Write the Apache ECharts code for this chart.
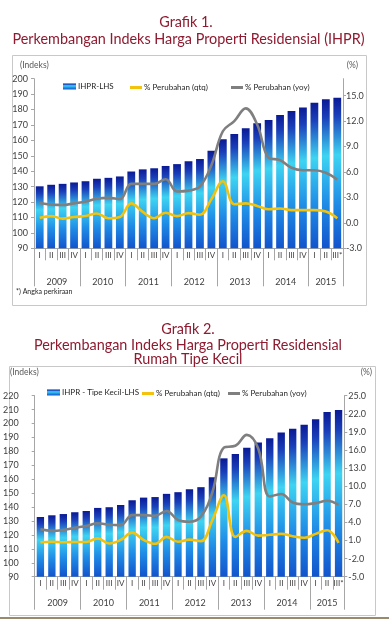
<!DOCTYPE html>
<html><head><meta charset="utf-8">
<script src="https://cdn.jsdelivr.net/npm/echarts@6/dist/echarts.min.js"></script>
<style>html,body{margin:0;padding:0;background:#fff}#c{width:389px;height:619px}</style>
</head><body><div id="c"></div>
<script>
// ---------- data ----------
const quarters = ['I','II','III','IV','I','II','III','IV','I','II','III','IV','I','II','III','IV','I','II','III','IV','I','II','III','IV','I','II','III*'];
const years = ['2009','2010','2011','2012','2013','2014','2015'];
const quartersPerYear = [4,4,4,4,4,4,3];

// Grafik 1 - IHPR
const ihpr = [130.2,131.2,131.8,132.7,133.5,135.1,135.7,136.6,139.8,141.2,141.9,143.4,144.6,146.5,147.9,153.3,160.7,164.1,167.8,171.1,173.2,176.4,179.0,181.4,184.4,186.6,187.7];
const qtq1 = [0.6,0.8,0.5,0.7,0.8,1.1,0.55,0.7,2.3,1.3,0.55,1.2,0.8,1.15,0.95,2.8,4.9,2.2,2.3,2.0,1.6,1.7,1.5,1.5,1.5,1.35,0.55];
const yoy1 = [2.35,2.15,2.1,2.3,2.5,2.85,2.95,2.8,4.6,4.6,4.6,5.15,3.7,3.8,4.3,6.8,10.8,12.0,13.5,11.6,7.7,7.4,6.5,6.2,6.2,5.9,5.1];

// Grafik 2 - Rumah Tipe Kecil
const ihprKecil = [132.9,134.1,135.0,136.3,137.2,139.4,139.9,141.5,144.9,146.8,147.2,149.5,150.7,152.8,154.3,161.4,175.0,178.1,182.7,186.3,189.4,193.5,196.3,199.2,203.1,208.3,209.8];
const qtq2 = [0.7,0.8,0.7,0.75,0.75,1.35,0.5,1.1,2.3,1.1,0.45,1.6,0.8,1.15,0.9,4.4,8.5,1.6,2.6,1.8,1.95,2.1,1.7,1.45,2.1,2.7,0.6];
const yoy2 = [2.85,2.6,2.75,3.1,3.4,3.85,3.6,3.55,5.2,5.2,5.1,5.9,4.4,4.1,5.0,9.0,16.4,16.7,18.5,16.2,8.3,8.7,7.3,7.0,7.2,7.6,6.9];

// axis tick settings [min, max, interval]
const leftAxis1 = [90, 200, 10];
const rightAxis1 = [-3, 17, 3];
const leftAxis2 = [90, 220, 10];
const rightAxis2 = [-5, 25, 3];

// ---------- helpers ----------
const yearCenters = [];
const yearStarts = [];
(function(){ let acc = 0; quartersPerYear.forEach(n => { yearStarts.push(acc); yearCenters.push(acc + n/2); acc += n; }); })();
function yearLabel(v){ const k = yearCenters.findIndex(c => Math.abs(c - v) < 1e-6); return k >= 0 ? years[k] : ''; }

const FONT = 'Lato, "Liberation Sans", sans-serif';
const AX = '#a6a6a6';
const TXT = '#404040';
const barGrad = {type:'linear',x:0,y:0,x2:0,y2:1,colorStops:[
  {offset:0,color:'#0a1a94'},{offset:0.12,color:'#1a40ba'},{offset:0.38,color:'#3ed4f2'},{offset:0.7,color:'#1f8ce6'},{offset:1,color:'#1254cc'}]};
const YEL = '#f2c20c', GRY = '#7f7f7f';

function xAxes(gi, qMargin, yMargin, qTick, yTick){
  return [
    {gridIndex:gi, type:'category', data:quarters, boundaryGap:true,
     axisLine:{show:true,onZero:false,lineStyle:{color:AX}},
     axisTick:{show:true,interval:0,length:qTick,lineStyle:{color:AX}},
     axisLabel:{interval:0,fontSize:8,margin:qMargin,color:TXT,fontFamily:FONT}},
    {gridIndex:gi, type:'category', data:quarters, position:'bottom', boundaryGap:true,
     axisLine:{show:false,onZero:false},
     axisTick:{show:true,interval:(i)=>yearStarts.indexOf(i)>=0,length:yTick,lineStyle:{color:AX}},
     axisLabel:{show:false}},
    {gridIndex:gi, type:'value', min:0, max:quarters.length, interval:0.5, position:'bottom',
     axisLine:{show:false,onZero:false}, axisTick:{show:false}, splitLine:{show:false},
     axisLabel:{formatter:yearLabel, fontSize:9, margin:yMargin, color:TXT, fontFamily:FONT, showMinLabel:true, showMaxLabel:true}}
  ];
}
function yAxes(gi, L, R, lMargin, rMargin){
  return [
    {gridIndex:gi, type:'value', position:'left', min:L[0], max:L[1], interval:L[2],
     axisLine:{show:true,onZero:false,lineStyle:{color:AX}}, axisTick:{show:true,length:3,lineStyle:{color:AX}},
     splitLine:{show:false}, axisLabel:{fontSize:9,margin:lMargin,color:TXT,fontFamily:FONT}},
    {gridIndex:gi, type:'value', position:'right', min:R[0], max:R[1], interval:R[2],
     axisLine:{show:true,onZero:false,lineStyle:{color:AX}}, axisTick:{show:true,length:3,lineStyle:{color:AX}},
     splitLine:{show:false},
     axisLabel:{fontSize:9,margin:rMargin,color:TXT,fontFamily:FONT,showMaxLabel:(R[1]-R[0])%R[2]===0,
       formatter:v=>v.toFixed(1)}}
  ];
}
function series(gi, barName, bars, qtq, yoy, gap){
  const xi = gi*3, yi = gi*2;
  return [
    {name:barName, type:'bar', xAxisIndex:xi, yAxisIndex:yi, data:bars, barCategoryGap:gap,
     itemStyle:{color:barGrad}, z:2},
    {name:'% Perubahan (qtq)', type:'line', xAxisIndex:xi, yAxisIndex:yi+1, data:qtq, smooth:0.4,
     showSymbol:false, lineStyle:{color:YEL,width:2.6}, itemStyle:{color:YEL}, z:4},
    {name:'% Perubahan (yoy)', type:'line', xAxisIndex:xi, yAxisIndex:yi+1, data:yoy, smooth:0.4,
     showSymbol:false, lineStyle:{color:GRY,width:2.6}, itemStyle:{color:GRY}, z:3}
  ];
}
function legend(name, left, top, isBar){
  return {data:[name], left:left, top:top, icon:'rect', itemWidth:isBar?13:12, itemHeight:isBar?6:3,
    itemGap:0, padding:0, selectedMode:false,
    textStyle:{fontSize:8,color:'#262626',fontFamily:FONT,padding:[0,0,0,-3]}};
}
function txt(text, x, y, size, color, align){
  return {type:'text', x:x, y:y, silent:true,
    style:{text:text, fill:color, font:size+'px '+FONT, align:align||'center', textAlign:align||'center',
      verticalAlign:'middle', textVerticalAlign:'middle'}};
}
const RED = '#8e1b30';

const option = {
  animation:false,
  backgroundColor:'#ffffff',
  textStyle:{fontFamily:FONT},
  grid:[
    {left:34, top:78.7, width:309, height:169.6, containLabel:false},
    {left:30.7, top:395.7, width:313.6, height:181, containLabel:false}
  ],
  xAxis:[].concat(xAxes(0, 3, 29, 12, 38), xAxes(1, 3, 22, 13, 33)),
  yAxis:[].concat(yAxes(0, leftAxis1, rightAxis1, 6, 3), yAxes(1, leftAxis2, rightAxis2, 16, 4)),
  legend:[
    legend('IHPR-LHS', 63, 82.5, true),
    legend('% Perubahan (qtq)', 130, 83.5, false),
    legend('% Perubahan (yoy)', 231, 83.5, false),
    legend('IHPR - Tipe Kecil-LHS', 47, 388.5, true),
    legend('% Perubahan (qtq)', 142, 389.5, false),
    legend('% Perubahan (yoy)', 228, 389.5, false)
  ],
  series:[].concat(
    series(0, 'IHPR-LHS', ihpr, qtq1, yoy1, '32%'),
    series(1, 'IHPR - Tipe Kecil-LHS', ihprKecil, qtq2, yoy2, '36%')
  ),
  graphic:[
    {type:'rect', shape:{x:12.5,y:55.5,width:354,height:250}, style:{fill:'none',stroke:'#c8c8c8',lineWidth:1}, silent:true, z:-1},
    {type:'rect', shape:{x:9.5,y:366.5,width:366,height:249}, style:{fill:'none',stroke:'#c8c8c8',lineWidth:1}, silent:true, z:-1},
    {type:'rect', shape:{x:0,y:617,width:389,height:2}, style:{fill:'#9a8a6c'}, silent:true},
    txt('Grafik 1.', 186, 22, 14.4, RED),
    txt('Perkembangan Indeks Harga Properti Residensial (IHPR)', 188.5, 39, 14.4, RED),
    txt('(Indeks)', 20, 65.5, 8.5, '#595959', 'left'),
    txt('(%)', 358, 65.5, 8.5, '#595959', 'right'),
    txt('*) Angka perkiraan', 16, 292, 7, '#262626', 'left'),
    txt('Grafik 2.', 188, 329, 14.4, RED),
    txt('Perkembangan Indeks Harga Properti Residensial', 188, 345.5, 14.4, RED),
    txt('Rumah Tipe Kecil', 188, 359.5, 14.4, RED),
    txt('(Indeks)', 10, 372, 8.5, '#595959', 'left'),
    txt('(%)', 372, 372, 8.5, '#595959', 'right')
  ]
};
const chart = echarts.init(document.getElementById('c'), null, {renderer:'canvas'});
chart.setOption(option);
</script></body></html>
